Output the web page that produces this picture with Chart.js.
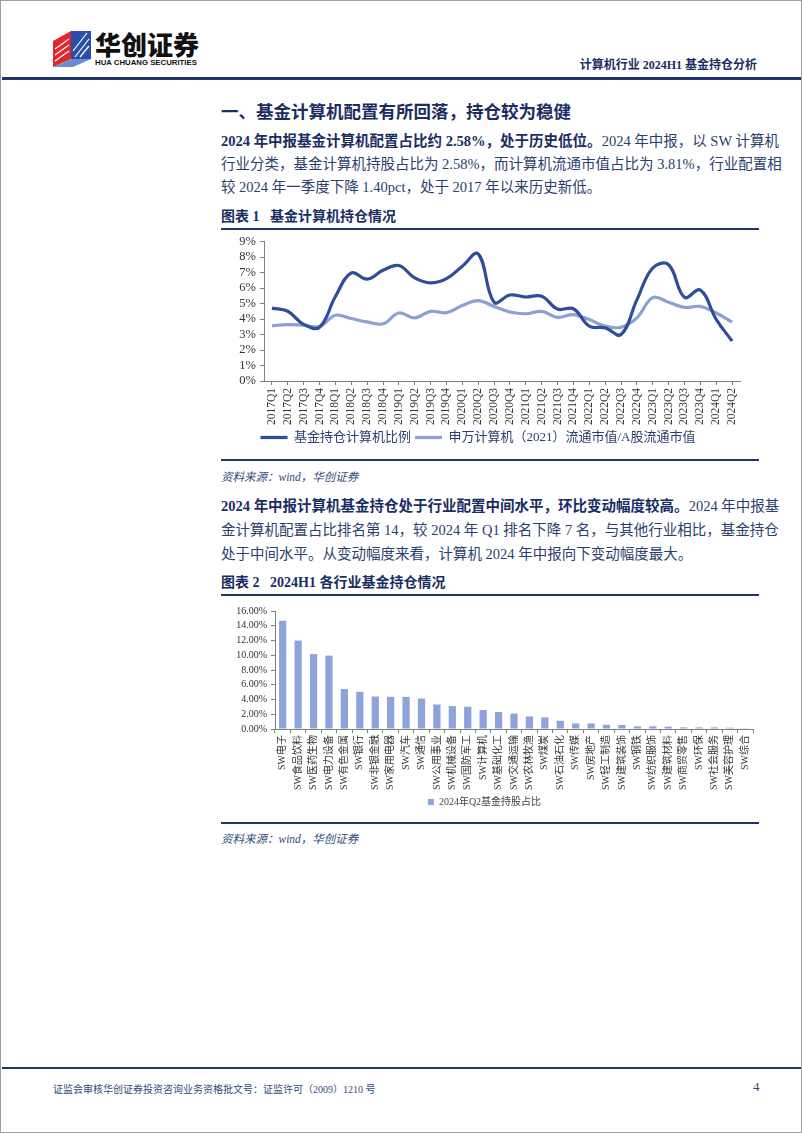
<!DOCTYPE html>
<html>
<head>
<meta charset="utf-8">
<script src="https://cdn.jsdelivr.net/npm/chart.js@4.4.1/dist/chart.umd.min.js"></script>
<style>
  body { margin: 0; background: #fff; }
  #page { position: relative; width: 800px; height: 1131px; border: 1px solid #a0a0a0; overflow: hidden;
          font-family: "Liberation Serif", "Noto Sans CJK SC", serif; color: #2c3e6e; }
  .abs { position: absolute; }
  .line { position: absolute; left: 220px; width: 538px; font-size: 14.5px; line-height: 20px;
          text-align: justify; text-align-last: justify; white-space: nowrap; }
  .line.last { text-align-last: left; }
  .line b { color: #1a2d63; }
  .figtitle { position: absolute; left: 220px; font-size: 14px; font-weight: bold; color: #1a2d63; line-height: 20px; }
  .rule { position: absolute; left: 220px; width: 538px; height: 2px; background: #1f3468; }
  .src { position: absolute; left: 220px; font-size: 11.5px; font-style: italic; color: #2f4b7c; }
</style>
</head>
<body>
<div id="page">
  <!-- header -->
  <svg class="abs" style="left:50px;top:28px" width="42" height="40" viewBox="0 0 42 40">
    <polygon points="2,12 20,2 20,30 2,38" fill="#e3262b"/>
    <polygon points="20,2 40,2 40,30 20,30" fill="#2a4fa8"/>
    <polygon points="2,38 20,30 40,30 22,38" fill="#6f8cd0"/>
    <g stroke="#fff" stroke-width="1.2">
      <line x1="4" y1="20" x2="18" y2="10"/><line x1="4" y1="26" x2="18" y2="16"/>
      <line x1="4" y1="32" x2="18" y2="22"/><line x1="24" y1="28" x2="38" y2="10"/>
      <line x1="29" y1="28" x2="38" y2="17"/><line x1="22" y1="22" x2="36" y2="4"/>
    </g>
  </svg>
  <div class="abs" style="left:94px;top:30px;font-family:'Noto Sans CJK SC';font-weight:900;font-size:26px;line-height:26px;color:#111">华创证券</div>
  <div class="abs" style="left:94px;top:57px;font-family:'Liberation Sans';font-weight:bold;font-size:7.8px;line-height:9px;color:#111">HUA CHUANG SECURITIES</div>
  <div class="abs" style="right:44px;top:54px;font-size:12px;font-weight:bold;color:#1a2d63">计算机行业 2024H1 基金持仓分析</div>
  <div class="abs" style="left:1px;top:76px;width:800px;height:3px;background:#1f3468"></div>

  <div class="abs" style="left:220px;top:97px;font-size:17.5px;font-weight:bold;color:#1a2d63">一、基金计算机配置有所回落，持仓较为稳健</div>

  <div class="line" style="top:130px"><b>2024 年中报基金计算机配置占比约 2.58%，处于历史低位。</b>2024 年中报，以 SW 计算机</div>
  <div class="line" style="top:153px">行业分类，基金计算机持股占比为 2.58%，而计算机流通市值占比为 3.81%，行业配置相</div>
  <div class="line last" style="top:176px">较 2024 年一季度下降 1.40pct，处于 2017 年以来历史新低。</div>

  <div class="figtitle" style="top:206px">图表 1&nbsp;&nbsp;&nbsp;基金计算机持仓情况</div>
  <div class="rule" style="top:227px"></div>
  <canvas id="c1" class="abs" style="left:215px;top:229px" width="552" height="224"></canvas>
  <div class="rule" style="top:458px"></div>
  <div class="src" style="top:467px">资料来源：wind，华创证券</div>

  <div class="line" style="top:495px"><b>2024 年中报计算机基金持仓处于行业配置中间水平，环比变动幅度较高。</b>2024 年中报基</div>
  <div class="line" style="top:519px">金计算机配置占比排名第 14，较 2024 年 Q1 排名下降 7 名，与其他行业相比，基金持仓</div>
  <div class="line last" style="top:543px">处于中间水平。从变动幅度来看，计算机 2024 年中报向下变动幅度最大。</div>

  <div class="figtitle" style="top:572px">图表 2&nbsp;&nbsp;&nbsp;2024H1 各行业基金持仓情况</div>
  <div class="rule" style="top:593px"></div>
  <canvas id="c2" class="abs" style="left:215px;top:600px" width="550" height="216"></canvas>
  <div class="rule" style="top:821px"></div>
  <div class="src" style="top:829px">资料来源：wind，华创证券</div>

  <!-- footer -->
  <div class="abs" style="left:1px;top:1066px;width:800px;height:2px;background:#1f3468"></div>
  <div class="abs" style="left:52px;top:1080px;font-size:10px;color:#2f4b7c">证监会审核华创证券投资咨询业务资格批文号：证监许可（2009）1210 号</div>
  <div class="abs" style="left:752px;top:1078px;font-size:13px;color:#2f4b7c">4</div>
</div>

<script>
const quarters = ['2017Q1','2017Q2','2017Q3','2017Q4','2018Q1','2018Q2','2018Q3','2018Q4',
  '2019Q1','2019Q2','2019Q3','2019Q4','2020Q1','2020Q2','2020Q3','2020Q4',
  '2021Q1','2021Q2','2021Q3','2021Q4','2022Q1','2022Q2','2022Q3','2022Q4',
  '2023Q1','2023Q2','2023Q3','2023Q4','2024Q1','2024Q2'];
const fundRatio = [4.70, 4.50, 3.65, 3.47, 5.45, 6.97, 6.57, 7.14, 7.45, 6.65, 6.33, 6.60,
  7.40, 8.20, 5.08, 5.55, 5.42, 5.47, 4.64, 4.66, 3.54, 3.43, 3.00, 5.23,
  7.29, 7.50, 5.40, 5.87, 3.98, 2.58];
const swRatio = [3.56, 3.64, 3.60, 3.52, 4.24, 4.03, 3.81, 3.69, 4.39, 4.07, 4.49, 4.41,
  4.87, 5.19, 4.81, 4.45, 4.34, 4.49, 4.11, 4.28, 3.96, 3.54, 3.47, 4.07,
  5.38, 5.08, 4.75, 4.81, 4.39, 3.81];

const industries = ['SW电子','SW食品饮料','SW医药生物','SW电力设备','SW有色金属','SW银行','SW非银金融',
  'SW家用电器','SW汽车','SW通信','SW公用事业','SW机械设备','SW国防军工','SW计算机','SW基础化工',
  'SW交通运输','SW农林牧渔','SW煤炭','SW石油石化','SW传媒','SW房地产','SW轻工制造','SW建筑装饰',
  'SW钢铁','SW纺织服饰','SW建筑材料','SW商贸零售','SW环保','SW社会服务','SW美容护理','SW综合'];
const q2Share = [14.67, 12.0, 10.15, 9.95, 5.42, 5.05, 4.40, 4.36, 4.36, 4.13, 3.33, 3.11, 3.02, 2.58, 2.30,
  2.10, 1.70, 1.57, 1.12, 0.76, 0.76, 0.58, 0.54, 0.36, 0.36, 0.31, 0.22, 0.22, 0.22, 0.18, 0.04];

const serif = "'Liberation Serif', 'Noto Sans CJK SC', serif";
const axisColor = '#808080';

new Chart(document.getElementById('c1'), {
  type: 'line',
  data: {
    labels: quarters,
    datasets: [
      { label: '基金持仓计算机比例', data: fundRatio, borderColor: '#2e4d9b', backgroundColor: '#2e4d9b',
        borderWidth: 3.2, pointRadius: 0, tension: 0.4, fill: false },
      { label: '申万计算机（2021）流通市值/A股流通市值', data: swRatio, borderColor: '#8da0d5', backgroundColor: '#8da0d5',
        borderWidth: 3.2, pointRadius: 0, tension: 0.4, fill: false }
    ]
  },
  options: {
    responsive: false,
    animation: false,
    layout: { padding: { top: 0, right: 28, left: 0, bottom: 0 } },
    plugins: {
      tooltip: { enabled: false },
      legend: {
        position: 'bottom',
        labels: { usePointStyle: true, pointStyle: 'line', pointStyleWidth: 27, boxHeight: 13,
                  padding: 4, color: '#2c3e6e', font: { family: serif, size: 13 } }
      }
    },
    scales: {
      x: {
        offset: true,
        grid: { drawOnChartArea: false, tickLength: 4, color: axisColor },
        border: { color: axisColor },
        ticks: { autoSkip: false, maxRotation: 90, minRotation: 90, padding: 3, color: '#333',
                 font: { family: serif, size: 11.5 } },
        afterFit: s => { s.height = 46; }
      },
      y: {
        min: 0, max: 9,
        grid: { drawOnChartArea: false, tickLength: 4, color: axisColor },
        border: { color: axisColor },
        ticks: { autoSkip: false, stepSize: 1, padding: 4, color: '#333', font: { family: serif, size: 12.5 },
                 callback: v => v + '%' },
        afterFit: s => { s.width = 48; }
      }
    }
  }
});

new Chart(document.getElementById('c2'), {
  type: 'bar',
  data: {
    labels: industries,
    datasets: [
      { label: '2024年Q2基金持股占比', data: q2Share, backgroundColor: '#8da3da',
        categoryPercentage: 1, barPercentage: 0.47 }
    ]
  },
  options: {
    responsive: false,
    animation: false,
    layout: { padding: { top: 10, right: 13, left: 0, bottom: 0 } },
    plugins: {
      tooltip: { enabled: false },
      legend: {
        position: 'bottom',
        labels: { boxWidth: 6, boxHeight: 6, padding: 4, color: '#444', font: { family: serif, size: 10 } }
      }
    },
    scales: {
      x: {
        grid: { drawOnChartArea: false, tickLength: 4, color: axisColor },
        border: { color: axisColor },
        ticks: { autoSkip: false, maxRotation: 90, minRotation: 90, padding: 2, color: '#333',
                 font: { family: serif, size: 10 } },
        afterFit: s => { s.height = 64; }
      },
      y: {
        min: 0, max: 16,
        grid: { drawOnChartArea: false, tickLength: 4, color: axisColor },
        border: { color: axisColor },
        ticks: { autoSkip: false, stepSize: 2, padding: 4, color: '#333', font: { family: serif, size: 10 },
                 callback: v => v.toFixed(2) + '%' },
        afterFit: s => { s.width = 59; }
      }
    }
  }
});
</script>
</body>
</html>
